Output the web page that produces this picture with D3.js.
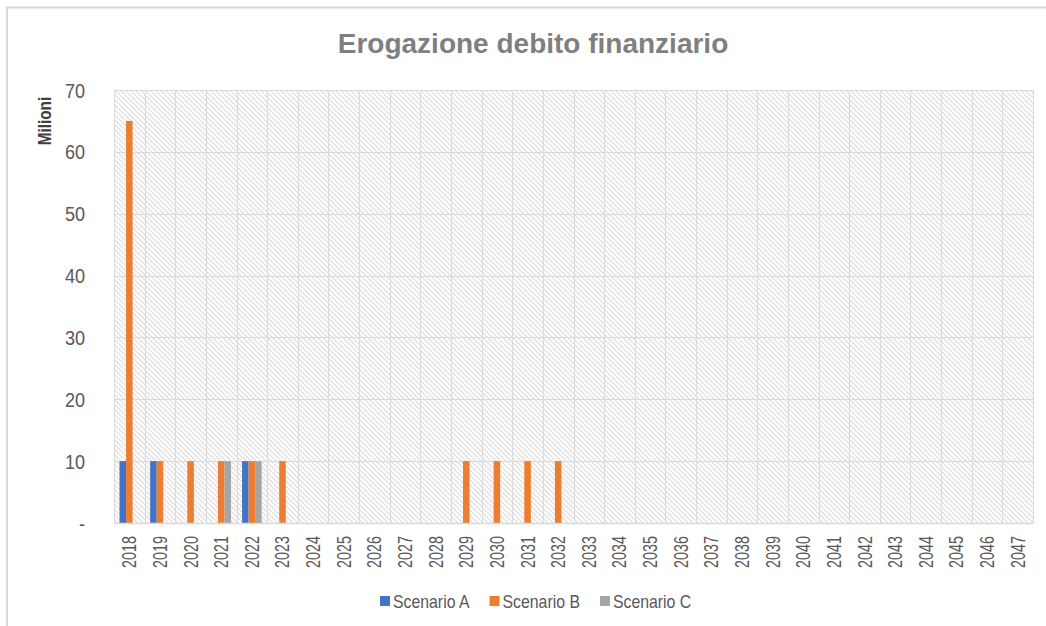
<!DOCTYPE html>
<html>
<head>
<meta charset="utf-8">
<script src="https://cdn.jsdelivr.net/npm/d3@7"></script>
<style>
  body { margin: 0; background: #fff; }
  svg { display: block; }
</style>
</head>
<body>
<script>
// chart data
var years = ["2018","2019","2020","2021","2022","2023","2024","2025","2026","2027","2028","2029","2030","2031","2032","2033","2034","2035","2036","2037","2038","2039","2040","2041","2042","2043","2044","2045","2046","2047"];
var seriesNames = ["Scenario A", "Scenario B", "Scenario C"];
var scenarioA = [10,10,0,0,10,0,0,0,0,0,0,0,0,0,0,0,0,0,0,0,0,0,0,0,0,0,0,0,0,0];
var scenarioB = [65,10,10,10,10,10,0,0,0,0,0,10,10,10,10,0,0,0,0,0,0,0,0,0,0,0,0,0,0,0];
var scenarioC = [0,0,0,10,10,0,0,0,0,0,0,0,0,0,0,0,0,0,0,0,0,0,0,0,0,0,0,0,0,0];
var yTicks = [0,10,20,30,40,50,60,70];
var colors = ["#4472C4", "#ED7D31", "#A5A5A5"];

var W = 1046, H = 626;
var m = {left: 114, right: 1033, top: 90, bottom: 523};
var font = "'Liberation Sans', Arial, sans-serif";

var svg = d3.select("body").append("svg").attr("width", W).attr("height", H);

// hatch pattern for the plot area
var defs = svg.append("defs");
var pat = defs.append("pattern")
    .attr("id", "hatch")
    .attr("patternUnits", "userSpaceOnUse")
    .attr("width", 5).attr("height", 5);
pat.append("rect").attr("width", 5).attr("height", 5).attr("fill", "#fff");
pat.append("path")
    .attr("d", "M0,0 L5,5 M-1,4 L1,6 M4,-1 L6,1")
    .attr("stroke", "#e0e0e0").attr("stroke-width", 1.3);

// outer chart border (only top/left visible in the crop)
svg.append("path")
    .attr("d", "M7," + (H + 5) + " V7.5 H" + (W + 5))
    .attr("fill", "none").attr("stroke", "#d9d9d9").attr("stroke-width", 2);

var x0 = d3.scaleBand().domain(years).range([m.left, m.right])
    .paddingInner(0.36).paddingOuter(0.18);
var x1 = d3.scaleBand().domain(seriesNames).range([0, x0.bandwidth()]);
var y = d3.scaleLinear().domain([0, 70]).range([m.bottom, m.top]);

// plot background
svg.append("rect")
    .attr("x", m.left).attr("y", m.top)
    .attr("width", m.right - m.left).attr("height", m.bottom - m.top)
    .attr("fill", "url(#hatch)");

// gridlines
var step = x0.step();
var g = svg.append("g").attr("stroke", "#dadada").attr("stroke-width", 1);
g.selectAll(".hg").data(yTicks).enter().append("line")
    .attr("x1", m.left).attr("x2", m.right)
    .attr("y1", d => Math.round(y(d)) + 0.5).attr("y2", d => Math.round(y(d)) + 0.5);
g.selectAll(".vg").data(d3.range(years.length + 1)).enter().append("line")
    .attr("x1", i => Math.round(m.left + i * step) + 0.5)
    .attr("x2", i => Math.round(m.left + i * step) + 0.5)
    .attr("y1", m.top).attr("y2", m.bottom);

// bars
var allSeries = [scenarioA, scenarioB, scenarioC];
var rows = [];
years.forEach(function(yr, i) {
  seriesNames.forEach(function(s, j) {
    rows.push({year: yr, series: s, value: allSeries[j][i], color: colors[j]});
  });
});
svg.append("g").selectAll("rect")
    .data(rows.filter(d => d.value > 0))
    .enter().append("rect")
    .attr("x", d => x0(d.year) + x1(d.series))
    .attr("width", x1.bandwidth())
    .attr("y", d => y(d.value))
    .attr("height", d => y(0) - y(d.value))
    .attr("fill", d => d.color);

// x axis line
svg.append("line")
    .attr("x1", m.left).attr("x2", m.right)
    .attr("y1", m.bottom + 0.5).attr("y2", m.bottom + 0.5)
    .attr("stroke", "#d9d9d9").attr("stroke-width", 1.5);

// y tick labels (narrow look via horizontal squeeze)
svg.append("g").selectAll("text")
    .data(yTicks).enter().append("text")
    .attr("transform", d => "translate(85," + y(d) + ") scale(0.86,1)")
    .attr("dy", "0.36em")
    .attr("text-anchor", "end")
    .attr("font-family", font)
    .attr("font-size", 21)
    .attr("fill", "#595959")
    .text(d => d === 0 ? "-" : d);

// x tick labels
svg.append("g").selectAll("text")
    .data(years).enter().append("text")
    .attr("transform", d => "translate(" + (x0(d) + x0.bandwidth() / 2 + 7) + "," + 536 + ") rotate(-90) scale(0.72,1)")
    .attr("text-anchor", "end")
    .attr("font-family", font)
    .attr("font-size", 20)
    .attr("fill", "#595959")
    .text(d => d);

// y axis title
svg.append("text")
    .attr("transform", "translate(51,121) rotate(-90) scale(0.85,1)")
    .attr("text-anchor", "middle")
    .attr("font-family", font)
    .attr("font-weight", "bold")
    .attr("font-size", 18)
    .attr("fill", "#404040")
    .text("Milioni");

// title
svg.append("text")
    .attr("x", 533).attr("y", 53)
    .attr("text-anchor", "middle")
    .attr("font-family", font)
    .attr("font-weight", "bold")
    .attr("font-size", 28)
    .attr("fill", "#7f7f7f")
    .text("Erogazione debito finanziario");

// legend
var leg = svg.append("g");
var lx = 380;
seriesNames.forEach(function(s, i) {
  var it = leg.append("g").attr("transform", "translate(" + lx + ",0)");
  it.append("rect").attr("x", 0).attr("y", 596).attr("width", 10).attr("height", 10).attr("fill", colors[i]);
  var t = it.append("text").attr("transform", "translate(13,608) scale(0.88,1)")
      .attr("font-family", font).attr("font-size", 18).attr("fill", "#595959").text(s);
  lx += 13 + t.node().getComputedTextLength() * 0.88 + 20;
});
</script>
</body>
</html>
